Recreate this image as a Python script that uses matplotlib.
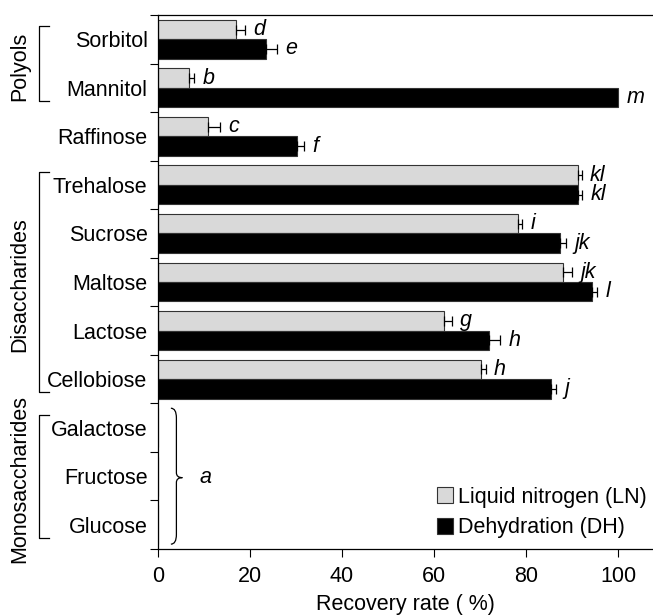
import matplotlib
matplotlib.use("Agg")
import matplotlib.pyplot as plt
from matplotlib.path import Path
from matplotlib.patches import PathPatch
import matplotlib.transforms as mtransforms
import numpy as np

plt.rcParams['font.family'] = ['Liberation Sans', 'DejaVu Sans']

categories = ["Sorbitol", "Mannitol", "Raffinose", "Trehalose", "Sucrose",
              "Maltose", "Lactose", "Cellobiose", "Galactose", "Fructose", "Glucose"]
ln_values = [17.0, 6.7, 10.9, 91.2, 78.2, 88.0, 62.2, 70.2, 0, 0, 0]
ln_errors = [2.0, 1.1, 2.5, 0.9, 1.0, 2.1, 1.6, 1.0, 0, 0, 0]
dh_values = [23.5, 100.0, 30.2, 91.3, 87.4, 94.3, 72.0, 85.4, 0, 0, 0]
dh_errors = [2.4, 0.0, 1.5, 0.9, 1.2, 1.1, 2.4, 1.2, 0, 0, 0]
ln_letters = ["d", "b", "c", "kl", "i", "jk", "g", "h", "", "", ""]
dh_letters = ["e", "m", "f", "kl", "jk", "l", "h", "j", "", "", ""]
groups = [("Polyols", 0, 1), ("Disaccharides", 3, 7), ("Monosaccharides", 8, 10)]
mono_letter = "a"
series_names = ["Liquid nitrogen (LN)", "Dehydration (DH)"]

FS = 15.5

fig = plt.figure(figsize=(6.53, 6.16), dpi=100)
ax = fig.add_axes([158/653, 1 - 549/616, 1 - 158/653, (549 - 15)/616])

y = np.arange(len(categories))
h = 0.4
ax.barh(y - h/2, ln_values, height=h, color='#d9d9d9', edgecolor='#333333', linewidth=0.8,
        label=series_names[0], zorder=2)
ax.barh(y + h/2, dh_values, height=h, color='black', edgecolor='#333333', linewidth=0.8,
        label=series_names[1], zorder=2)

for i in range(len(categories)):
    for val, err, off, let in [(ln_values[i], ln_errors[i], -h/2, ln_letters[i]),
                               (dh_values[i], dh_errors[i], h/2, dh_letters[i])]:
        if val == 0:
            continue
        if err > 0:
            ax.errorbar(val, y[i] + off, xerr=[[0], [err]], fmt='none', ecolor='black',
                        elinewidth=0.9, capsize=3.5, capthick=0.9, zorder=3)
        if let:
            ax.annotate(let, (val + err, y[i] + off), xytext=(6, 0), textcoords='offset points',
                        ha='left', va='center', fontsize=FS, style='italic', annotation_clip=False)

ax.set_xlim(0, 107.6)
ax.set_ylim(len(categories) - 0.5, -0.5)
ax.set_yticks(y)
ax.set_yticklabels(categories, fontsize=FS)
ax.set_yticks(np.arange(-0.5, len(categories), 1.0), minor=True)
ax.tick_params(axis='y', which='major', length=0, pad=7.5)
ax.tick_params(axis='y', which='minor', length=6, direction='out', width=0.8)
ax.set_xticks([0, 20, 40, 60, 80, 100])
ax.tick_params(axis='x', labelsize=FS, length=6, width=0.8, direction='out', pad=6)
ax.set_xlabel("Recovery rate ( %)", fontsize=FS, labelpad=5)
ax.spines['right'].set_visible(False)
for s in ['left', 'bottom', 'top']:
    ax.spines[s].set_linewidth(0.9)

# group brackets (x in figure fraction, y in data)
trans = mtransforms.blended_transform_factory(fig.transFigure, ax.transData)
xb = 39/653
xe = 49/653
xt = 20/653
for name, a, b in groups:
    top = a - 0.27
    bot = b + 0.27
    ax.plot([xe, xb, xb, xe], [top, top, bot, bot], color='black', lw=0.9,
            transform=trans, clip_on=False)
    ax.text(xt, (top + bot)/2 + 0.05, name, rotation=90, ha='center', va='center',
            fontsize=FS, transform=trans)

# brace for monosaccharides
x0, x1, x2 = 2.8, 4.0, 5.3
yt, ym, yb = 7.6, 9.03, 10.4
verts = [(x0, yt), (x1, yt), (x1, yt + 0.2),
         (x1, ym - 0.1),
         (x1, ym), (x2, ym),
         (x1, ym), (x1, ym + 0.1),
         (x1, yb - 0.2),
         (x1, yb), (x0, yb)]
codes = [Path.MOVETO, Path.CURVE3, Path.CURVE3,
         Path.LINETO,
         Path.CURVE3, Path.CURVE3,
         Path.CURVE3, Path.CURVE3,
         Path.LINETO,
         Path.CURVE3, Path.CURVE3]
ax.add_patch(PathPatch(Path(verts, codes), facecolor='none', edgecolor='black', lw=0.9,
                       clip_on=False))
ax.text(9.0, ym, mono_letter, ha='left', va='center', fontsize=FS, style='italic')

leg = ax.legend(loc='lower right', bbox_to_anchor=(1.01, 0.0), frameon=False, fontsize=FS,
                handlelength=0.75, handleheight=0.75, handletextpad=0.25, labelspacing=0.45,
                borderaxespad=0.1)

fig.savefig("out.png", dpi=100)
